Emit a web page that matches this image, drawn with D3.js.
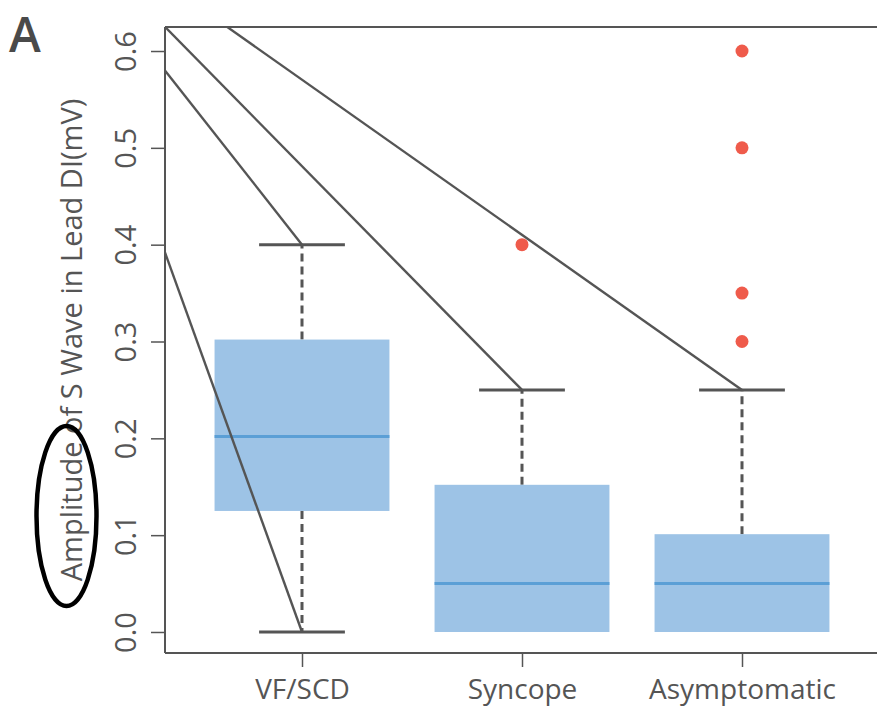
<!DOCTYPE html>
<html>
<head>
<meta charset="utf-8">
<script src="https://cdn.jsdelivr.net/npm/d3@7"></script>
<style>
  body { margin: 0; background: #fff; }
  svg { display: block; font-family: "Open Sans", sans-serif; }
</style>
</head>
<body>
<figure id="box" style="margin:0"></figure>
<script>
// categories and box statistics
var categories = ["VF/SCD", "Syncope", "Asymptomatic"];
var whiskerLow = [0.0, 0.0, 0.0];
var q1 = [0.125, 0.0, 0.0];
var medians = [0.202, 0.05, 0.05];
var q3 = [0.302, 0.152, 0.101];
var whiskerHigh = [0.4, 0.25, 0.25];
var outliers = [[], [0.4], [0.6, 0.5, 0.35, 0.3]];
var yTicks = [0.0, 0.1, 0.2, 0.3, 0.4, 0.5, 0.6];

// guide lines drawn over the plot, in (category index, value) units
var guideLines = [
  [[-0.623, 0.580], [0, 0.4]],
  [[-0.623, 0.625], [1, 0.25]],
  [[-0.341, 0.625], [2, 0.25]],
  [[-0.623, 0.392], [0, 0.0]]
];

var width = 877, height = 708;
var margin = { left: 165, top: 27 };
var plotW = 760, plotH = 626;

var svg = d3.select("figure#box")
  .append("svg")
  .attr("width", width)
  .attr("height", height);

var g = svg.append("g")
  .attr("transform", "translate(" + margin.left + "," + margin.top + ")");

var y = d3.scaleLinear()
  .domain([-0.0217, 0.6248])
  .range([plotH, 0]);

var x = d3.scalePoint()
  .domain(categories)
  .range([137, 577]);

var step = x.step();
var xi = d3.scaleLinear().domain([0, 2]).range([x(categories[0]), x(categories[2])]);

var axisColor = "#555";

g.append("clipPath").attr("id", "clip")
  .append("rect").attr("width", plotW).attr("height", plotH);

// frame: top line, left and bottom axes
g.append("line")
  .attr("x1", 0).attr("x2", plotW).attr("y1", 0).attr("y2", 0)
  .attr("stroke", axisColor).attr("stroke-width", 2);

var yAxis = g.append("g")
  .call(d3.axisLeft(y).tickValues(yTicks).tickFormat(d3.format(".1f")).tickSize(14).tickSizeOuter(0));
yAxis.select(".domain").attr("stroke", axisColor).attr("stroke-width", 2)
  .attr("d", "M0," + plotH + "V0");
yAxis.selectAll(".tick line").attr("stroke", axisColor).attr("stroke-width", 1.5);
yAxis.selectAll(".tick text")
  .attr("transform", "rotate(-90)")
  .attr("x", 0).attr("y", -29).attr("dy", 0)
  .style("text-anchor", "middle")
  .attr("fill", axisColor)
  .style("font-size", "29px")
  .style("font-family", "Open Sans");

var xAxis = g.append("g")
  .attr("transform", "translate(0," + plotH + ")")
  .call(d3.axisBottom(x).tickSize(14).tickSizeOuter(0).tickPadding(10));
xAxis.select(".domain").attr("stroke", axisColor).attr("stroke-width", 2)
  .attr("d", "M0,0H" + plotW);
xAxis.selectAll(".tick line").attr("stroke", axisColor).attr("stroke-width", 1.5);
xAxis.selectAll(".tick text")
  .attr("fill", axisColor)
  .attr("dy", 0).attr("y", 46)
  .style("font-size", "28px")
  .style("font-family", "Open Sans");

var boxes = categories.map(function (c, i) {
  return { cat: c, lo: whiskerLow[i], q1: q1[i], med: medians[i], q3: q3[i], hi: whiskerHigh[i], out: outliers[i] };
});

// whiskers (dashed) and caps
var boxW = step * 0.795, capW = step * 0.39;
boxes.forEach(function (d) {
  var cx = x(d.cat);
  if (d.hi > d.q3) {
    g.append("line").attr("x1", cx).attr("x2", cx).attr("y1", y(d.q3)).attr("y2", y(d.hi))
      .attr("stroke", axisColor).attr("stroke-width", 3).attr("stroke-dasharray", "8,5");
    g.append("line").attr("x1", cx - capW / 2).attr("x2", cx + capW / 2).attr("y1", y(d.hi)).attr("y2", y(d.hi))
      .attr("stroke", axisColor).attr("stroke-width", 3);
  }
  if (d.lo < d.q1) {
    g.append("line").attr("x1", cx).attr("x2", cx).attr("y1", y(d.q1)).attr("y2", y(d.lo))
      .attr("stroke", axisColor).attr("stroke-width", 3).attr("stroke-dasharray", "8,5");
    g.append("line").attr("x1", cx - capW / 2).attr("x2", cx + capW / 2).attr("y1", y(d.lo)).attr("y2", y(d.lo))
      .attr("stroke", axisColor).attr("stroke-width", 3);
  }
});

// boxes
g.selectAll("rect.box")
  .data(boxes)
  .enter()
  .append("rect")
  .attr("class", "box")
  .attr("x", d => x(d.cat) - boxW / 2)
  .attr("y", d => y(d.q3))
  .attr("width", boxW)
  .attr("height", d => y(d.q1) - y(d.q3))
  .attr("fill", "#9dc3e6");

// medians
g.selectAll("line.med")
  .data(boxes)
  .enter()
  .append("line")
  .attr("class", "med")
  .attr("x1", d => x(d.cat) - boxW / 2)
  .attr("x2", d => x(d.cat) + boxW / 2)
  .attr("y1", d => y(d.med))
  .attr("y2", d => y(d.med))
  .attr("stroke", "#5b9fd6")
  .attr("stroke-width", 3);

// outliers
var pts = [];
boxes.forEach(function (d) { d.out.forEach(function (v) { pts.push({ cat: d.cat, v: v }); }); });
g.selectAll("circle.out")
  .data(pts)
  .enter()
  .append("circle")
  .attr("class", "out")
  .attr("cx", d => x(d.cat))
  .attr("cy", d => y(d.v))
  .attr("r", 6.5)
  .attr("fill", "#ef5b4b");

// guide lines
g.append("g").attr("clip-path", "url(#clip)")
  .selectAll("line")
  .data(guideLines)
  .enter()
  .append("line")
  .attr("x1", d => xi(d[0][0]))
  .attr("y1", d => y(d[0][1]))
  .attr("x2", d => xi(d[1][0]))
  .attr("y2", d => y(d[1][1]))
  .attr("stroke", axisColor)
  .attr("stroke-width", 2.4);

// y axis title
svg.append("text")
  .attr("transform", "translate(82,340) rotate(-90)")
  .style("text-anchor", "middle")
  .style("font-size", "29px")
  .attr("fill", axisColor)
  .text("Amplitude of S Wave in Lead DI(mV)");

// highlight ellipse round "Amplitude"
svg.append("ellipse")
  .attr("cx", 66.5).attr("cy", 516).attr("rx", 30).attr("ry", 90)
  .attr("fill", "none").attr("stroke", "#000").attr("stroke-width", 4.5);

// panel letter
svg.append("text")
  .attr("x", 9).attr("y", 52)
  .style("font-size", "48px")
  .style("font-weight", 600)
  .attr("fill", "#4a4a4a")
  .text("A");
</script>
</body>
</html>
